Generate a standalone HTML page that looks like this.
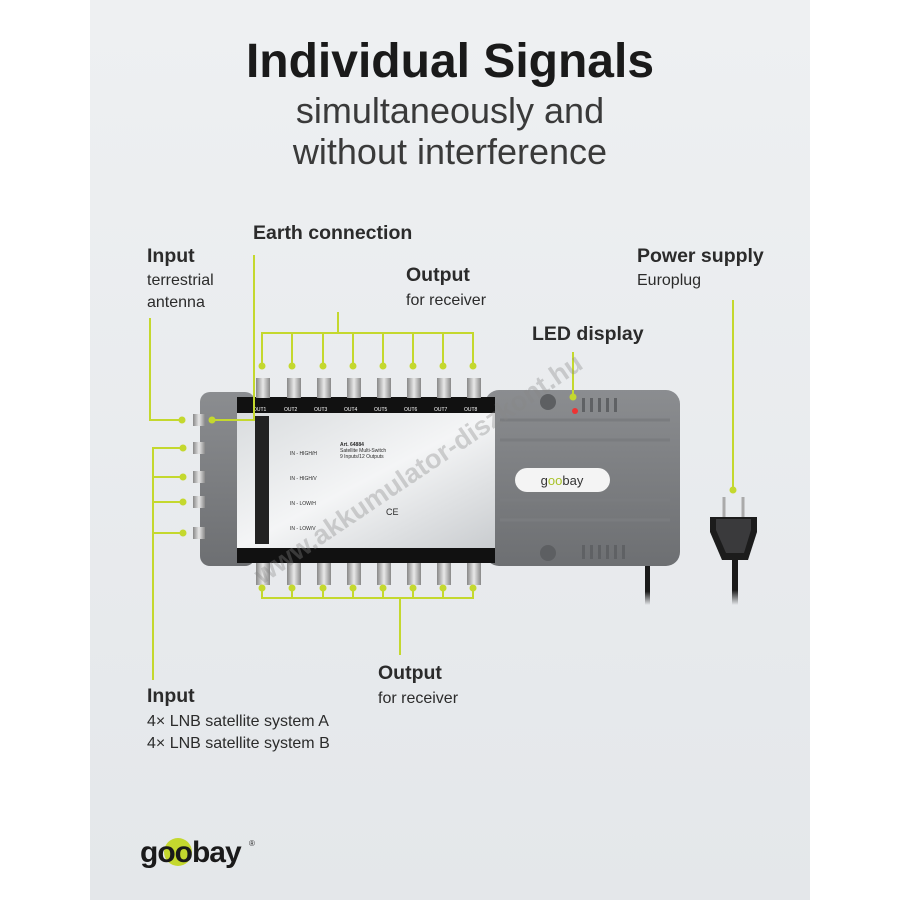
<!DOCTYPE html>
<html><head><meta charset="utf-8"><style>
html,body{margin:0;padding:0;background:#fff;}
svg{display:block;}
text{font-family:"Liberation Sans","DejaVu Sans",sans-serif;fill:#2b2b2b;}
.b{font-weight:bold;font-size:19.5px;}
.s{font-size:16px;}
</style></head><body>
<svg width="900" height="900" viewBox="0 0 900 900" xmlns="http://www.w3.org/2000/svg">
<defs>
<linearGradient id="bg" x1="0" y1="0" x2="0" y2="1"><stop offset="0" stop-color="#eef0f2"/><stop offset="1" stop-color="#e4e7ea"/></linearGradient>
<linearGradient id="sil" x1="0" y1="0" x2="1" y2="1"><stop offset="0" stop-color="#d9dcde"/><stop offset="0.5" stop-color="#f4f5f6"/><stop offset="1" stop-color="#c9cccf"/></linearGradient>
<linearGradient id="gr" x1="0" y1="0" x2="0" y2="1"><stop offset="0" stop-color="#8b8d90"/><stop offset="1" stop-color="#6d6f72"/></linearGradient>
<linearGradient id="con" x1="0" y1="0" x2="1" y2="0"><stop offset="0" stop-color="#888"/><stop offset="0.5" stop-color="#e8e8e8"/><stop offset="1" stop-color="#888"/></linearGradient>
<linearGradient id="cab" x1="0" y1="0" x2="0" y2="1"><stop offset="0" stop-color="#1a1a1a"/><stop offset="0.7" stop-color="#1a1a1a"/><stop offset="1" stop-color="#1a1a1a" stop-opacity="0"/></linearGradient>
</defs>
<rect x="90" y="0" width="720" height="900" fill="url(#bg)"/>
<text x="450" y="77" text-anchor="middle" style="font-size:48px;font-weight:bold;fill:#1a1a1a">Individual Signals</text>
<text x="450" y="123" text-anchor="middle" style="font-size:36px;fill:#3a3a3a">simultaneously and</text>
<text x="450" y="164" text-anchor="middle" style="font-size:36px;fill:#3a3a3a">without interference</text>

<text x="147" y="262" class="b">Input</text>
<text x="147" y="285" class="s">terrestrial</text>
<text x="147" y="307" class="s">antenna</text>
<text x="253" y="239" class="b">Earth connection</text>
<text x="406" y="281" class="b">Output</text>
<text x="406" y="305" class="s">for receiver</text>
<text x="532" y="340" class="b">LED display</text>
<text x="637" y="262" class="b">Power supply</text>
<text x="637" y="285" class="s">Europlug</text>
<text x="378" y="679" class="b">Output</text>
<text x="378" y="703" class="s">for receiver</text>
<text x="147" y="702" class="b">Input</text>
<text x="147" y="726" class="s">4× LNB satellite system A</text>
<text x="147" y="748" class="s">4× LNB satellite system B</text>

<!-- cables -->
<rect x="645" y="560" width="5" height="45" fill="url(#cab)"/>
<rect x="732" y="555" width="6" height="50" fill="url(#cab)"/>
<!-- device -->
<g>
<rect x="485" y="390" width="195" height="176" rx="14" fill="url(#gr)"/>
<g stroke="#7a7c7f" stroke-width="3">
<line x1="500" y1="420" x2="670" y2="420"/><line x1="500" y1="440" x2="670" y2="440"/><line x1="500" y1="500" x2="670" y2="500"/><line x1="500" y1="520" x2="670" y2="520"/></g>
<g fill="#5f6164"><rect x="582" y="398" width="3" height="14"/><rect x="590" y="398" width="3" height="14"/><rect x="598" y="398" width="3" height="14"/><rect x="606" y="398" width="3" height="14"/><rect x="614" y="398" width="3" height="14"/>
<rect x="582" y="545" width="3" height="14"/><rect x="590" y="545" width="3" height="14"/><rect x="598" y="545" width="3" height="14"/><rect x="606" y="545" width="3" height="14"/><rect x="614" y="545" width="3" height="14"/><rect x="622" y="545" width="3" height="14"/></g>
<rect x="515" y="468" width="95" height="24" rx="12" fill="#f4f4f4"/>
<text x="562" y="485" text-anchor="middle" style="font-size:13px;fill:#333">g<tspan style="fill:#a9c32a">oo</tspan>bay</text>
<circle cx="548" cy="402" r="8" fill="#5d5f62"/><circle cx="548" cy="553" r="8" fill="#5d5f62"/>
<circle cx="575" cy="411" r="3" fill="#e33"/>
<rect x="200" y="392" width="55" height="174" rx="10" fill="url(#gr)"/>
<rect x="237" y="397" width="258" height="166" fill="#111"/>
<rect x="237" y="413" width="258" height="135" fill="url(#sil)"/>
<rect x="255" y="416" width="14" height="128" fill="#222"/>
<text x="253" y="411" style="font-size:5px;fill:#fff">OUT1</text><text x="284" y="411" style="font-size:5px;fill:#fff">OUT2</text><text x="314" y="411" style="font-size:5px;fill:#fff">OUT3</text><text x="344" y="411" style="font-size:5px;fill:#fff">OUT4</text><text x="374" y="411" style="font-size:5px;fill:#fff">OUT5</text><text x="404" y="411" style="font-size:5px;fill:#fff">OUT6</text><text x="434" y="411" style="font-size:5px;fill:#fff">OUT7</text><text x="464" y="411" style="font-size:5px;fill:#fff">OUT8</text>
<text x="340" y="446" style="font-size:5px;font-weight:bold">Art. 64884</text>
<text x="340" y="452" style="font-size:5px">Satellite Multi-Switch</text>
<text x="340" y="458" style="font-size:5px">9 Inputs/12 Outputs</text>
<text x="386" y="515" style="font-size:9px">CE</text>
<text x="290" y="455" style="font-size:5px">IN - HIGH/H</text>
<text x="290" y="480" style="font-size:5px">IN - HIGH/V</text>
<text x="290" y="505" style="font-size:5px">IN - LOW/H</text>
<text x="290" y="530" style="font-size:5px">IN - LOW/V</text>
<g fill="url(#con)">
<rect x="256" y="378" width="14" height="20"/><rect x="287" y="378" width="14" height="20"/><rect x="317" y="378" width="14" height="20"/><rect x="347" y="378" width="14" height="20"/><rect x="377" y="378" width="14" height="20"/><rect x="407" y="378" width="14" height="20"/><rect x="437" y="378" width="14" height="20"/><rect x="467" y="378" width="14" height="20"/>
<rect x="256" y="563" width="14" height="22"/><rect x="287" y="563" width="14" height="22"/><rect x="317" y="563" width="14" height="22"/><rect x="347" y="563" width="14" height="22"/><rect x="377" y="563" width="14" height="22"/><rect x="407" y="563" width="14" height="22"/><rect x="437" y="563" width="14" height="22"/><rect x="467" y="563" width="14" height="22"/>
<rect x="193" y="414" width="12" height="12"/><rect x="193" y="442" width="12" height="12"/><rect x="193" y="471" width="12" height="12"/><rect x="193" y="496" width="12" height="12"/><rect x="193" y="527" width="12" height="12"/>
</g>
</g>
<!-- plug -->
<line x1="724" y1="517" x2="724" y2="497" stroke="#aaa" stroke-width="3"/>
<line x1="743" y1="517" x2="743" y2="497" stroke="#aaa" stroke-width="3"/>
<path d="M710 517 H757 V532 L748 560 H722 L710 532 Z" fill="#1c1c1c"/>
<path d="M716 519 H751 V530 L744 553 H726 L716 530 Z" fill="#3a3a3c"/>

<!-- connectors -->
<g stroke="#c4d82e" stroke-width="2" fill="none">
<path d="M150 318 V420 H182"/>
<path d="M254 255 V420 H212"/>
<path d="M338 312 V333 M262 366 V333 H473 V366 M292 333 V366 M323 333 V366 M353 333 V366 M383 333 V366 M413 333 V366 M443 333 V366"/>
<path d="M573 352 V397"/>
<path d="M733 300 V490"/>
<path d="M153 680 V448 H183 M153 477 H183 M153 502 H183 M153 533 H183"/>
<path d="M262 588 V598 H473 V588 M292 588 V598 M323 588 V598 M353 588 V598 M383 588 V598 M413 588 V598 M443 588 V598 M400 598 V655"/>
</g>
<g fill="#c4d82e">
<circle cx="182" cy="420" r="3.5"/><circle cx="212" cy="420" r="3.5"/>
<circle cx="262" cy="366" r="3.5"/><circle cx="292" cy="366" r="3.5"/><circle cx="323" cy="366" r="3.5"/><circle cx="353" cy="366" r="3.5"/><circle cx="383" cy="366" r="3.5"/><circle cx="413" cy="366" r="3.5"/><circle cx="443" cy="366" r="3.5"/><circle cx="473" cy="366" r="3.5"/>
<circle cx="573" cy="397" r="3.5"/><circle cx="733" cy="490" r="3.5"/>
<circle cx="183" cy="448" r="3.5"/><circle cx="183" cy="477" r="3.5"/><circle cx="183" cy="502" r="3.5"/><circle cx="183" cy="533" r="3.5"/>
<circle cx="262" cy="588" r="3.5"/><circle cx="292" cy="588" r="3.5"/><circle cx="323" cy="588" r="3.5"/><circle cx="353" cy="588" r="3.5"/><circle cx="383" cy="588" r="3.5"/><circle cx="413" cy="588" r="3.5"/><circle cx="443" cy="588" r="3.5"/><circle cx="473" cy="588" r="3.5"/>
</g>
<text x="0" y="0" transform="translate(262,585) rotate(-34)" style="font-size:27px;font-weight:bold;fill:#888;fill-opacity:0.35">www.akkumulator-diszkont.hu</text>

<!-- logo -->
<circle cx="178" cy="852" r="14" fill="#c4d82e"/>
<text x="140" y="862" style="font-size:30px;font-weight:bold;fill:#1a1a1a;letter-spacing:-1px">goobay</text>
<text x="249" y="846" style="font-size:8px">®</text>
</svg>
</body></html>
